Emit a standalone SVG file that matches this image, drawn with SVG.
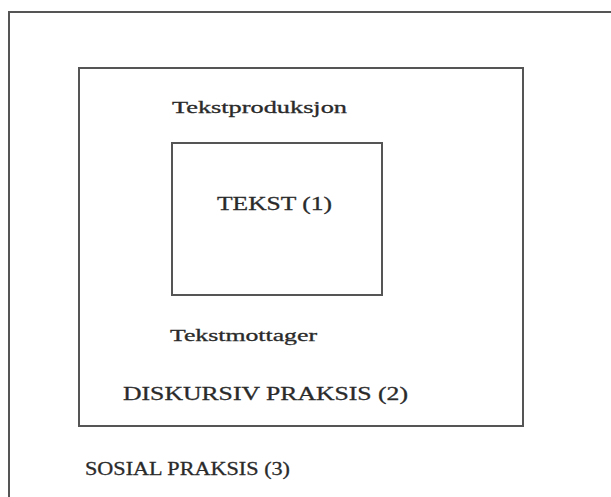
<svg xmlns="http://www.w3.org/2000/svg" width="611" height="497" viewBox="0 0 611 497">
<style>
.box{fill:none;stroke:#555;stroke-width:2}
.t{font-family:"Liberation Serif","Times New Roman",serif;fill:#2a2a2a;stroke:#2a2a2a;stroke-width:0.3}
.s{font-size:17px}
.c{font-size:19.5px}
</style>
<rect width="611" height="497" fill="#fff"/>
<g id="sosial">
<path class="box" d="M9,500 L9,12 L615,12"/>
<text class="t c" x="85" y="475" textLength="205" lengthAdjust="spacingAndGlyphs">SOSIAL PRAKSIS (3)</text>
</g>
<g id="diskursiv">
<rect class="box" x="79" y="68" width="444" height="358"/>
<text class="t s" x="172" y="113" textLength="175" lengthAdjust="spacingAndGlyphs">Tekstproduksjon</text>
<text class="t s" x="170" y="341" textLength="147" lengthAdjust="spacingAndGlyphs">Tekstmottager</text>
<text class="t c" x="123" y="400" textLength="285" lengthAdjust="spacingAndGlyphs">DISKURSIV PRAKSIS (2)</text>
</g>
<g id="tekst">
<rect class="box" x="172" y="143" width="210" height="152"/>
<text class="t c" x="217" y="210" textLength="115" lengthAdjust="spacingAndGlyphs">TEKST (1)</text>
</g>
<g id="connectors"></g>
</svg>
